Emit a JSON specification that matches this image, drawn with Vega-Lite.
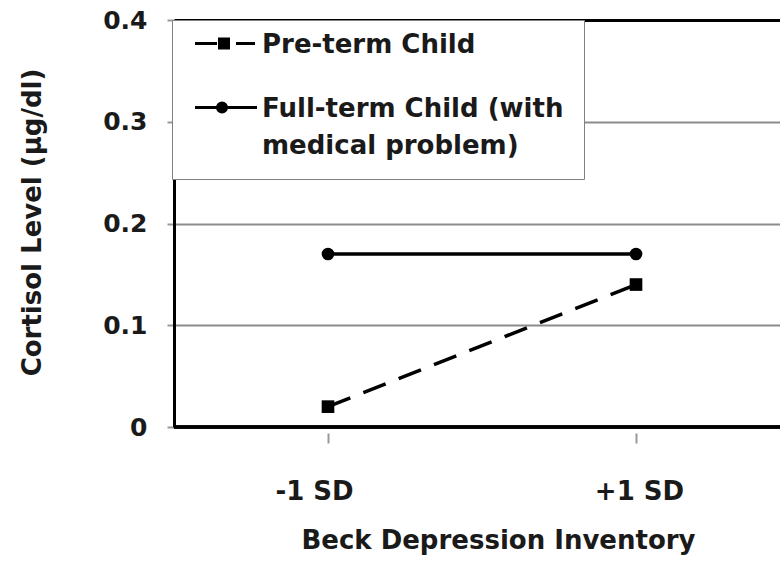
{
  "$schema": "https://vega.github.io/schema/vega-lite/v6.json",
  "width": 606,
  "height": 407,
  "autosize": {"type": "none"},
  "padding": {"left": 174, "top": 20, "right": 0, "bottom": 136},
  "background": "white",
  "config": {"view": {"stroke": null}, "font": "DejaVu Sans", "style": {"guide-label": {"lineHeight": 37}}},
  "data": {"values": [
    {"bdi": "-1 SD", "series": "Pre-term Child", "cortisol": 0.02},
    {"bdi": "+1 SD", "series": "Pre-term Child", "cortisol": 0.14},
    {"bdi": "-1 SD", "series": "Full-term Child (with medical problem)", "cortisol": 0.17},
    {"bdi": "+1 SD", "series": "Full-term Child (with medical problem)", "cortisol": 0.17}
  ]},
  "resolve": {"scale": {"shape": "independent"}},
  "layer": [
    {
      "mark": {"type": "line", "color": "black", "strokeWidth": 3.5},
      "encoding": {
        "x": {"field": "bdi", "type": "ordinal", "sort": ["-1 SD", "+1 SD"],
          "scale": {"type": "point", "padding": 0.48377, "align": 0.51678},
          "axis": {"title": "Beck Depression Inventory", "domain": false, "offset": 6, "ticks": true, "tickSize": 10, "tickColor": "#999999", "tickWidth": 2,
            "labelFont": "DejaVu Sans", "labelFontWeight": "bold", "labelFontSize": 26, "labelColor": "#1a1a1a", "labelAngle": 0, "labelBaseline": "alphabetic", "labelPadding": 56,
            "labelOffset": {"condition": {"test": "datum.value == '-1 SD'", "value": -14}, "value": 3},
            "titleFont": "DejaVu Sans", "titleFontWeight": "bold", "titleFontSize": 26, "titleColor": "#1a1a1a", "titleX": 324, "titleY": 115, "titleBaseline": "alphabetic", "titleAlign": "center", "grid": false}},
        "y": {"field": "cortisol", "type": "quantitative",
          "scale": {"domain": [0, 0.4], "nice": false},
          "axis": {"title": "Cortisol Level (µg/dl)", "values": [0, 0.1, 0.2, 0.3, 0.4],
            "labelExpr": "datum.value == 0 ? '0' : format(datum.value, '.1f')",
            "domainColor": "black", "domainWidth": 3, "tickColor": "#999999", "tickSize": 7, "tickWidth": 2,
            "labelPadding": 20, "labelFont": "DejaVu Sans", "labelFontSize": 25, "labelFontWeight": "bold", "labelColor": "#1a1a1a",
            "grid": true, "gridColor": {"condition": {"test": "datum.value >= 0.39", "value": "black"}, "value": "#8c8c8c"},
            "gridWidth": {"condition": {"test": "datum.value >= 0.39", "value": 3}, "value": 2},
            "titleFont": "DejaVu Sans", "titleFontSize": 26, "titleFontWeight": "bold", "titleColor": "#1a1a1a",
            "titleX": -142, "titleY": 202, "titleAlign": "center", "titleBaseline": "middle", "titleAngle": -90}},
        "strokeDash": {"field": "series", "type": "nominal",
          "scale": {"domain": ["Pre-term Child", "Full-term Child (with medical problem)"], "range": [[24, 14], [1, 0]]},
          "legend": null}
      }
    },
    {
      "mark": {"type": "rule", "color": "black", "strokeWidth": 3},
      "encoding": {"y": {"datum": 0, "type": "quantitative"}}
    },
    {
      "mark": {"type": "point", "filled": true, "color": "black", "opacity": 1, "size": 160},
      "encoding": {
        "x": {"field": "bdi", "type": "ordinal", "sort": ["-1 SD", "+1 SD"]},
        "y": {"field": "cortisol", "type": "quantitative"},
        "shape": {"field": "series", "type": "nominal",
          "scale": {"domain": ["Pre-term Child", "Full-term Child (with medical problem)"], "range": ["square", "circle"]},
          "legend": null}
      }
    },
    {
      "mark": {"type": "point", "filled": false, "color": "black", "opacity": 0, "size": 4, "strokeWidth": 3},
      "encoding": {
        "x": {"field": "bdi", "type": "ordinal", "sort": ["-1 SD", "+1 SD"]},
        "y": {"field": "cortisol", "type": "quantitative"},
        "shape": {"field": "series", "type": "nominal",
          "scale": {"domain": ["Pre-term Child", "Full-term Child (with medical problem)"],
            "range": ["M-31,-9.5H-9M-6.5,-14H2.5V-5H-6.5ZM-3.5,-11H-0.5V-8H-3.5ZM10,-9.5H29", "M-31,-9.5H31M0.5,-9.5A4.5,4.5,0,1,1,-8.5,-9.5A4.5,4.5,0,1,1,0.5,-9.5ZM-2.5,-9.5A1.5,1.5,0,1,1,-5.5,-9.5A1.5,1.5,0,1,1,-2.5,-9.5Z"]},
          "legend": {"title": null, "orient": "none", "legendX": -2, "legendY": 0,
            "fillColor": "white", "strokeColor": "#808080", "padding": 20,
            "symbolSize": 4, "symbolStrokeWidth": 3, "symbolOpacity": 1, "symbolStrokeColor": "black",
            "symbolOffset": 21,
            "labelFont": "DejaVu Sans", "labelFontSize": 26, "labelFontWeight": "bold", "labelColor": "#1a1a1a",
            "labelOffset": 23, "labelLimit": 600, "rowPadding": 38,
            "labelExpr": "datum.label == 'Full-term Child (with medical problem)' ? ['Full-term Child (with', 'medical problem)'] : datum.label",
            "labelBaseline": "alphabetic"}
        }
      }
    }
  ]
}
